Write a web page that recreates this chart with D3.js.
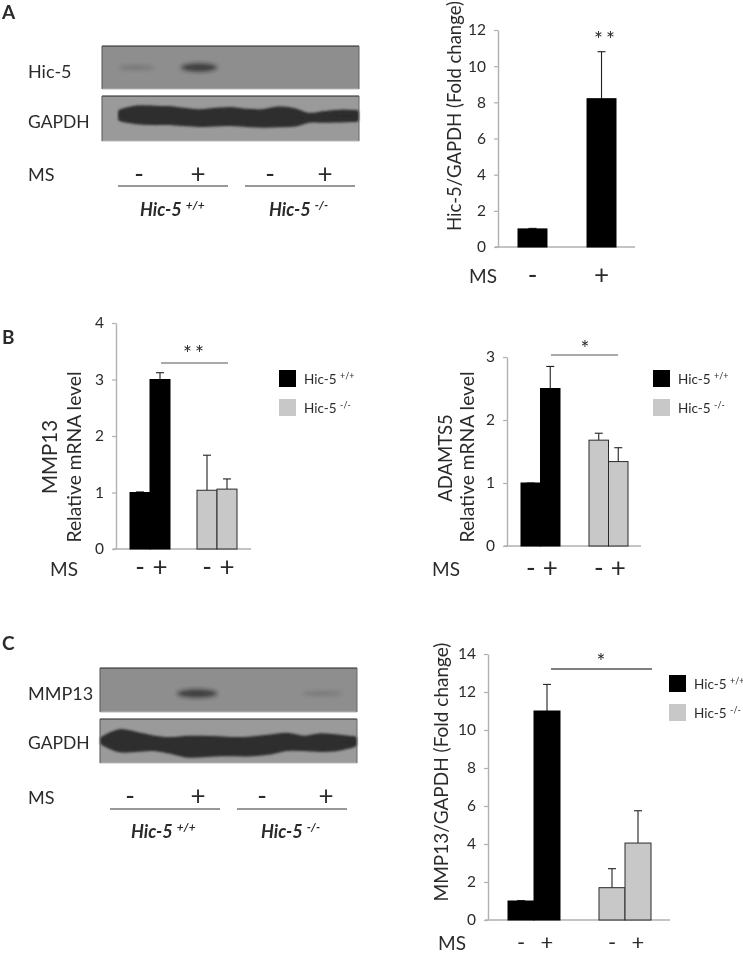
<!DOCTYPE html>
<html><head><meta charset="utf-8">
<script src="https://cdn.jsdelivr.net/npm/d3@7"></script>
<style>
html,body{margin:0;padding:0;background:#fff}
svg{display:block}
text{font-family:Lato,"Open Sans",sans-serif;fill:#2b2b2b}
</style></head><body><div id="c"></div>
<script>
// ---------- data ----------
const msStates = ["-", "+"];
const genotypes = ["Hic-5 +/+", "Hic-5 -/-"];
const lanes = ["wt-", "wt+", "ko-", "ko+"];

const hic5Values = [1, 8.2];
const hic5Tops = [1.03, 10.8];
const hic5Ticks = [0, 2, 4, 6, 8, 10, 12];

const mmp13MrnaValues = [1, 3, 1.04, 1.06];
const mmp13MrnaTops = [1.01, 3.12, 1.66, 1.24];
const mmp13MrnaTicks = [0, 1, 2, 3, 4];

const adamts5Values = [1, 2.5, 1.68, 1.34];
const adamts5Tops = [1.0, 2.85, 1.79, 1.56];
const adamts5Ticks = [0, 1, 2, 3];

const mmp13ProteinValues = [1, 11, 1.7, 4.05];
const mmp13ProteinTops = [1.02, 12.4, 2.7, 5.75];
const mmp13ProteinTicks = [0, 2, 4, 6, 8, 10, 12, 14];

// blot densities per lane (0..1), read by eye
const blotAHic5 = [0.22, 0.72, 0, 0];
const blotCMmp13 = [0, 0.72, 0, 0.2];
// GAPDH band outline: top and bottom edge as a fraction of blot height, sampled across the blot
const gapdhATop = [.36,.28,.28,.29,.33,.36,.33,.31,.35,.36,.30,.33,.44,.40,.37,.38];
const gapdhABot = [.50,.56,.58,.58,.60,.62,.61,.60,.62,.64,.63,.62,.53,.53,.52,.51];
const gapdhCTop = [.46,.30,.36,.44,.48,.45,.45,.46,.48,.46,.42,.38,.45,.39,.42,.46];
const gapdhCBot = [.53,.69,.68,.66,.72,.81,.80,.78,.78,.78,.74,.66,.66,.68,.66,.57];

// ---------- page ----------
const svg = d3.select("#c").append("svg").attr("width",743).attr("height",955);
const defs = svg.append("defs");
const addBlur=(id,s)=>defs.append("filter").attr("id",id).attr("x","-30%").attr("y","-60%").attr("width","160%").attr("height","220%")
  .append("feGaussianBlur").attr("stdDeviation",s);
addBlur("soft",0.45); addBlur("band",2.2); addBlur("edge",0.9);
const root = svg.append("g").attr("filter","url(#soft)");

function label(x,y,str,o={}){
  return root.append("text").attr("x",x).attr("y",y).text(str)
    .attr("font-size",o.size||18).attr("font-weight",o.weight||400).attr("font-style",o.style||"normal")
    .attr("text-anchor",o.anchor||"start").attr("fill",o.fill||"#2b2b2b");
}
function hr(x1,x2,y,c="#333",w=1){
  root.append("line").attr("x1",x1).attr("x2",x2).attr("y1",y).attr("y2",y).attr("stroke",c).attr("stroke-width",w);
}
function supLabel(x,y,name,sup,o){
  const t=label(x,y,name+" ",o);
  t.append("tspan").attr("dy",-(o.size*0.38)).attr("font-size",o.size*0.66).text(sup);
}
const supOf=g=>g.split(" ")[1], nameOf=g=>g.split(" ")[0];
function sign(x,cy,s,size=26){ label(x,cy+size*0.35,s,{size,anchor:"middle",fill:"#222"}); }

function blotFrame(x,y,w,h,bg){
  const g=root.append("g");
  g.append("rect").attr("x",x).attr("y",y).attr("width",w).attr("height",h).attr("fill",bg);
  return g;
}
function blotBorders(x,y,w,h){
  hr(x,x+w,y,"#222",1.2); hr(x,x+w,y+h,"#b8b8b8",1.2);
  root.append("line").attr("x1",x).attr("x2",x).attr("y1",y).attr("y2",y+h).attr("stroke","#555");
  root.append("line").attr("x1",x+w).attr("x2",x+w).attr("y1",y).attr("y2",y+h).attr("stroke","#666");
}
function proteinBlot(x,y,w,h,densities,bw,yFrac){
  const g=blotFrame(x,y,w,h,"#8e8e8e");
  const lane=d3.scaleBand().domain(lanes).range([x+6,x+w]);
  g.selectAll("ellipse").data(lanes.filter((l,i)=>densities[i]>0)).join("ellipse")
    .attr("cx",l=>lane(l)+lane.bandwidth()/2-3)
    .attr("cy",y+h*yFrac).attr("rx",bw/2).attr("ry",l=>1.5+3.5*densities[lanes.indexOf(l)])
    .attr("fill","#1c1c1c").attr("opacity",l=>densities[lanes.indexOf(l)]).attr("filter","url(#band)");
  blotBorders(x,y,w,h);
}
function gapdhBlot(x,y,w,h,top,bot,x0){
  const g=blotFrame(x,y,w,h,"#9a9a9a");
  const sx=d3.scalePoint().domain(d3.range(top.length)).range([x0,x+w-3]);
  const sy=d3.scaleLinear().domain([0,1]).range([y,y+h]);
  const area=d3.area().x((d,i)=>sx(i)).y0((d,i)=>sy(top[i])).y1((d,i)=>sy(bot[i])).curve(d3.curveCatmullRom);
  g.append("path").datum(top).attr("d",area).attr("fill","#2d2d2d")
    .attr("stroke","#2d2d2d").attr("stroke-width",6).attr("stroke-linejoin","round").attr("filter","url(#edge)");
  blotBorders(x,y,w,h);
}

function barChart(cfg){
  const y=d3.scaleLinear().domain(d3.extent(cfg.ticks)).range([cfg.y0,cfg.yTop]);
  const g=root.append("g");
  let xPos, bw;
  if(cfg.simple){
    const xs=d3.scaleBand().domain(msStates).range(cfg.xRange).paddingInner(cfg.padding);
    xPos=i=>xs(msStates[i]); bw=xs.bandwidth();
  } else {
    const total=cfg.xRange[1]-cfg.xRange[0];
    const step=total-cfg.groupW;
    const outer=d3.scaleBand().domain(genotypes).range(cfg.xRange).paddingInner(1-cfg.groupW/step);
    const inner=d3.scaleBand().domain(msStates).range([0,outer.bandwidth()]);
    xPos=i=>outer(genotypes[Math.floor(i/2)])+inner(msStates[i%2]); bw=inner.bandwidth();
  }
  const yAxis=d3.axisLeft(y).tickValues(cfg.ticks).tickFormat(d3.format("d")).tickSize(4).tickSizeOuter(0).tickPadding(cfg.tickPad||8);
  const ax=g.append("g").attr("transform",`translate(${cfg.xAxis},0)`).call(yAxis);
  ax.select(".domain").attr("stroke","#b0b0b0").attr("stroke-width",1.4);
  ax.selectAll(".tick line").attr("stroke","#b0b0b0").attr("stroke-width",1.2);
  ax.selectAll(".tick text").attr("font-size",cfg.tickSize||15.5).attr("font-family","Lato").attr("fill","#333");
  g.append("line").attr("x1",cfg.xAxis-3).attr("x2",cfg.xEnd).attr("y1",y(0)).attr("y2",y(0)).attr("stroke","#b0b0b0").attr("stroke-width",1.4);

  const idx=d3.range(cfg.values.length);
  const isKo=i=>!cfg.simple&&i>=2;
  g.selectAll("line.err").data(idx).join("line").attr("class","err")
    .attr("x1",i=>xPos(i)+bw/2).attr("x2",i=>xPos(i)+bw/2)
    .attr("y1",i=>y(cfg.values[i])).attr("y2",i=>y(cfg.tops[i])).attr("stroke","#222").attr("stroke-width",1.1);
  g.selectAll("line.cap").data(idx).join("line").attr("class","cap")
    .attr("x1",i=>xPos(i)+bw/2-4).attr("x2",i=>xPos(i)+bw/2+4)
    .attr("y1",i=>y(cfg.tops[i])).attr("y2",i=>y(cfg.tops[i])).attr("stroke","#222").attr("stroke-width",1.1);
  g.selectAll("rect.bar").data(idx).join("rect").attr("class","bar")
    .attr("x",i=>xPos(i)).attr("width",bw)
    .attr("y",i=>y(cfg.values[i])).attr("height",i=>y(0)-y(cfg.values[i]))
    .attr("fill",i=>isKo(i)?"#c8c8c8":"#000")
    .attr("stroke",i=>isKo(i)?"#2a2a2a":"#000").attr("stroke-width",1);

  label(cfg.msX,cfg.msY,"MS",{size:19});
  idx.forEach(i=>sign(xPos(i)+bw/2,cfg.signY,msStates[i%2],cfg.signSize||26));
  cfg.titles.forEach(t=>{
    root.append("text").attr("transform",`translate(${t.x},${t.y}) rotate(-90)`).attr("text-anchor","middle")
      .attr("font-size",t.size||19.3).text(t.text);
  });
  if(cfg.sig){
    if(cfg.sig.x1) hr(cfg.sig.x1,cfg.sig.x2,cfg.sig.y,"#555",cfg.sig.w||1.2);
    label(cfg.sig.sx,cfg.sig.sy,cfg.sig.text,{size:cfg.sig.size||20,anchor:"middle",fill:"#333"}).attr("letter-spacing",cfg.sig.text.length>1?3:0);
  }
  if(cfg.legend){
    genotypes.forEach((n,i)=>{
      root.append("rect").attr("x",cfg.legend.x).attr("y",cfg.legend.ys[i]).attr("width",17).attr("height",17)
        .attr("fill",i?"#c8c8c8":"#000");
      supLabel(cfg.legend.x+25,cfg.legend.ys[i]+14,nameOf(n),supOf(n),{size:13.5,fill:"#333"});
    });
  }
}

// ---------- panel letters ----------
label(2,19,"A",{size:19,weight:700,fill:"#111"});
label(2,344,"B",{size:19,weight:700,fill:"#111"});
label(2,650,"C",{size:19,weight:700,fill:"#111"});

// ---------- panel A left ----------
proteinBlot(102,46,257,43,blotAHic5,36,0.5);
gapdhBlot(102,96,257,45,gapdhATop,gapdhABot,121);
label(28,78,"Hic-5"); label(28,128,"GAPDH",{size:17.5}); label(28,181,"MS");
[139,198,270,325].forEach((x,i)=>sign(x,174,msStates[i%2]));
hr(118,228,186); hr(245,355,186);
genotypes.forEach((n,i)=>supLabel([140,269][i],216,nameOf(n),supOf(n),{size:18,style:"italic",weight:700,fill:"#111"}));

// ---------- panel A right ----------
barChart({simple:true,ticks:hic5Ticks,values:hic5Values,tops:hic5Tops,y0:247,yTop:30,xAxis:498,xEnd:635,
  xRange:[518,616],padding:0.58,msX:469,msY:283,signY:275,titles:[{x:461,y:116,text:"Hic-5/GAPDH (Fold change)",size:18.5}],
  sig:{sx:606,sy:47,text:"**",size:21}});

// ---------- panel B ----------
barChart({ticks:mmp13MrnaTicks,values:mmp13MrnaValues,tops:mmp13MrnaTops,y0:549,yTop:323,xAxis:116,xEnd:251,
  xRange:[130,237],groupW:40,msX:50,msY:576,signY:567,titles:[{x:57,y:457,text:"MMP13",size:20.5},{x:81,y:457,text:"Relative mRNA level"}],
  sig:{x1:161,x2:228,y:363,sx:195,sy:361,text:"**",size:21},legend:{x:279,ys:[370,399]}});
barChart({ticks:adamts5Ticks,values:adamts5Values,tops:adamts5Tops,y0:546,yTop:357,xAxis:507,xEnd:641,
  xRange:[521,628],groupW:39,msX:432,msY:576,signY:568,titles:[{x:452,y:458,text:"ADAMTS5",size:18.5},{x:474,y:457,text:"Relative mRNA level"}],
  sig:{x1:551,x2:618,y:355,sx:585,sy:356,text:"*",size:21},legend:{x:653,ys:[370,399]}});

// ---------- panel C left ----------
proteinBlot(100,668,257,44,blotCMmp13,40,0.58);
gapdhBlot(100,719,257,44,gapdhCTop,gapdhCBot,103);
label(28,700,"MMP13"); label(28,749,"GAPDH",{size:17.5}); label(28,804,"MS");
[130,198,262,326].forEach((x,i)=>sign(x,796,msStates[i%2]));
hr(110,220,809); hr(237,347,809);
genotypes.forEach((n,i)=>supLabel([131,261][i],838,nameOf(n),supOf(n),{size:18,style:"italic",weight:700,fill:"#111"}));

// ---------- panel C right ----------
barChart({ticks:mmp13ProteinTicks,values:mmp13ProteinValues,tops:mmp13ProteinTops,y0:920,yTop:654,xAxis:488,xEnd:670,
  xRange:[508,651],groupW:52,msX:438,msY:950,signY:942,signSize:22,titles:[{x:448,y:772,text:"MMP13/GAPDH (Fold change)",size:19}],
  sig:{x1:551,x2:652,y:669,w:1.6,sx:601,sy:669,text:"*",size:21},legend:{x:669,ys:[675,704]}});
</script></body></html>
